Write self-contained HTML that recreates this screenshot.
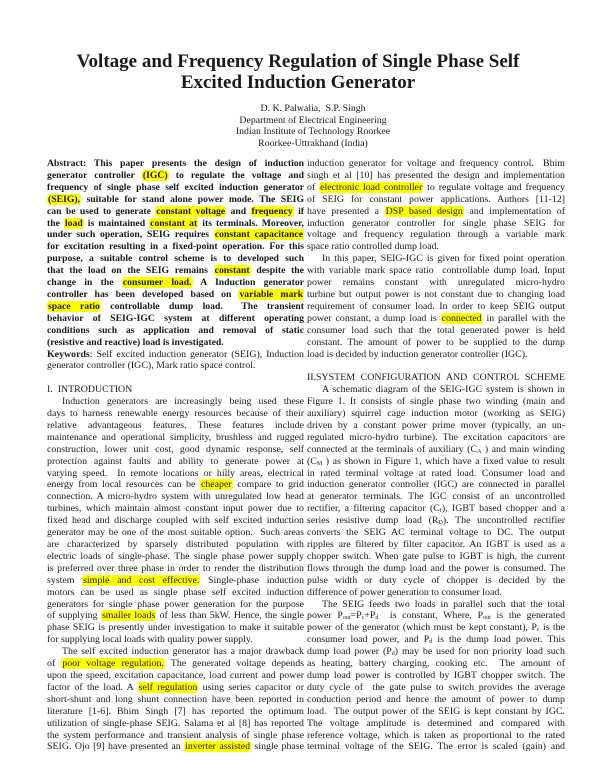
<!DOCTYPE html>
<html><head><meta charset="utf-8">
<style>
html,body{margin:0;padding:0;background:#fff;}
body{width:600px;height:776px;position:relative;overflow:hidden;font-family:"Liberation Serif",serif;color:#1a1a1a;}
.t{position:absolute;left:0;width:596px;text-align:center;font-weight:bold;font-size:19px;line-height:22px;}
.au{position:absolute;left:213px;width:200px;text-align:center;font-size:9.8px;line-height:11px;}
.col{position:absolute;top:158px;font-size:9.9px;}
.col div{height:11.92px;line-height:11.92px;white-space:nowrap;overflow:visible;text-align:justify;text-align-last:justify;}
.col div.l{text-align-last:left;}
.col .b{font-weight:bold;font-size:9.7px;}
.in{text-indent:15px;}
.h{background:#ffff00;border-radius:3px;padding:0 1px;}
sub{font-size:6px;vertical-align:-1px;line-height:0;}
</style></head><body>
<div class="t" style="top:51px">Voltage and Frequency Regulation of Single Phase Self</div>
<div class="t" style="top:72px">Excited Induction Generator</div>
<div class="au" style="top:103px">D. K. Palwalia,&nbsp; S.P. Singh</div>
<div class="au" style="top:114.5px">Department of Electrical Engineering</div>
<div class="au" style="top:126px">Indian Institute of Technology Roorkee</div>
<div class="au" style="top:137.5px">Roorkee-Uttrakhand (India)</div>

<div class="col" style="left:47px;width:257px">
<div class="b">Abstract: This paper presents the design of induction</div>
<div class="b">generator controller <span class="h">(IGC)</span> to regulate the voltage and</div>
<div class="b">frequency of single phase self excited induction generator</div>
<div class="b"><span class="h">(SEIG),</span> suitable for stand alone power mode. The SEIG</div>
<div class="b">can be used to generate <span class="h">constant voltage</span> and <span class="h">frequency</span> if</div>
<div class="b">the <span class="h">load</span> is maintained <span class="h">constant at</span> its terminals. Moreover,</div>
<div class="b">under such operation, SEIG requires <span class="h">constant capacitance</span></div>
<div class="b">for excitation resulting in a fixed-point operation. For this</div>
<div class="b">purpose, a suitable control scheme is to developed such</div>
<div class="b">that the load on the SEIG remains <span class="h">constant</span> despite the</div>
<div class="b">change in the <span class="h">consumer load.</span> A Induction generator</div>
<div class="b">controller has been developed based on <span class="h">variable mark</span></div>
<div class="b"><span class="h">space ratio</span> controllable dump load.&nbsp; The transient</div>
<div class="b">behavior of SEIG-IGC system at different operating</div>
<div class="b">conditions such as application and removal of static</div>
<div class="b l">(resistive and reactive) load is investigated.</div>
<div><b>Keywords</b>: Self excited induction generator (SEIG), Induction</div>
<div class="l">generator controller (IGC), Mark ratio space control.</div>
<div class="l"></div>
<div class="l">I.&nbsp; INTRODUCTION</div>
<div class="in">Induction generators are increasingly being used these</div>
<div>days to harness renewable energy resources because of their</div>
<div>relative advantageous features. These features include</div>
<div>maintenance and operational simplicity, brushless and rugged</div>
<div>construction, lower unit cost, good dynamic response, self</div>
<div>protection against faults and ability to generate power at</div>
<div>varying speed.&nbsp; In remote locations or hilly areas, electrical</div>
<div>energy from local resources can be <span class="h">cheaper</span> compare to grid</div>
<div>connection. A micro-hydro system with unregulated low head</div>
<div>turbines, which maintain almost constant input power due to</div>
<div>fixed head and discharge coupled with self excited induction</div>
<div>generator may be one of the most suitable option.&nbsp; Such areas</div>
<div>are characterized by sparsely distributed population with</div>
<div>electric loads of single-phase. The single phase power supply</div>
<div>is preferred over three phase in order to render the distribution</div>
<div>system <span class="h">simple and cost effective.</span> Single-phase induction</div>
<div>motors can be used as single phase self excited induction</div>
<div>generators for single phase power generation for the purpose</div>
<div>of supplying <span class="h">smaller loads</span> of less than 5kW. Hence, the single</div>
<div>phase SEIG is presently under investigation to make it suitable</div>
<div class="l">for supplying local loads with quality power supply.</div>
<div class="in">The self excited induction generator has a major drawback</div>
<div>of <span class="h">poor voltage regulation.</span> The generated voltage depends</div>
<div>upon the speed, excitation capacitance, load current and power</div>
<div>factor of the load. A <span class="h">self regulation</span> using series capacitor or</div>
<div>short-shunt and long shunt connection have been reported in</div>
<div>literature [1-6]. Bhim Singh [7] has reported the optimum</div>
<div>utilization of single-phase SEIG. Salama et al [8] has reported</div>
<div>the system performance and transient analysis of single phase</div>
<div>SEIG. Ojo [9] have presented an <span class="h">inverter assisted</span> single phase</div>
</div>

<div class="col" style="left:307px;width:258px">
<div>induction generator for voltage and frequency control.&nbsp; Bhim</div>
<div>singh et al [10] has presented the design and implementation</div>
<div>of <span class="h">electronic load controller</span> to regulate voltage and frequency</div>
<div>of SEIG for constant power applications. Authors [11-12]</div>
<div>have presented a <span class="h">DSP based design</span> and implementation of</div>
<div>induction generator controller for single phase SEIG for</div>
<div>voltage and frequency regulation through a variable mark</div>
<div class="l">space ratio controlled dump load.</div>
<div class="in">In this paper, SEIG-IGC is given for fixed point operation</div>
<div>with variable mark space ratio&nbsp; controllable dump load. Input</div>
<div>power remains constant with unregulated micro-hydro</div>
<div>turbine but output power is not constant due to changing load</div>
<div>requirement of consumer load. In order to keep SEIG output</div>
<div>power constant, a dump load is <span class="h">connected</span> in parallel with the</div>
<div>consumer load such that the total generated power is held</div>
<div>constant. The amount of power to be supplied to the dump</div>
<div class="l">load is decided by induction generator controller (IGC).</div>
<div class="l"></div>
<div>II.SYSTEM CONFIGURATION AND CONTROL SCHEME</div>
<div class="in">A schematic diagram of the SEIG-IGC system is shown in</div>
<div>Figure 1. It consists of single phase two winding (main and</div>
<div>auxiliary) squirrel cage induction motor (working as SEIG)</div>
<div>driven by a constant power prime mover (typically, an un-</div>
<div>regulated micro-hydro turbine). The excitation capacitors are</div>
<div>connected at the terminals of auxiliary (C<sub>A</sub> ) and main winding</div>
<div>(C<sub>M</sub> ) as shown in Figure 1, which have a fixed value to result</div>
<div>in rated terminal voltage at rated load. Consumer load and</div>
<div>induction generator controller (IGC) are connected in parallel</div>
<div>at generator terminals. The IGC consist of an uncontrolled</div>
<div>rectifier, a filtering capacitor (C<sub>f</sub>), IGBT based chopper and a</div>
<div>series resistive dump load (R<sub>D</sub>). The uncontrolled rectifier</div>
<div>converts the SEIG AC terminal voltage to DC. The output</div>
<div>ripples are filtered by filter capacitor. An IGBT is used as a</div>
<div>chopper switch. When gate pulse to IGBT is high, the current</div>
<div>flows through the dump load and the power is consumed. The</div>
<div>pulse width or duty cycle of chopper is decided by the</div>
<div class="l">difference of power generation to consumer load.</div>
<div class="in">The SEIG feeds two loads in parallel such that the total</div>
<div>power P<sub>out</sub>=P<sub>c</sub>+P<sub>d</sub>&nbsp; is constant, Where, P<sub>out</sub> is the generated</div>
<div>power of the generator (which must be kept constant), P<sub>c</sub> is the</div>
<div>consumer load power, and P<sub>d</sub> is the dump load power. This</div>
<div>dump load power (P<sub>d</sub>) may be used for non priority load such</div>
<div>as heating, battery charging, cooking etc.&nbsp; The amount of</div>
<div>dump load power is controlled by IGBT chopper switch. The</div>
<div>duty cycle of&nbsp; the gate pulse to switch provides the average</div>
<div>conduction period and hence the amount of power to dump</div>
<div>load.&nbsp; The output power of the SEIG is kept constant by IGC.</div>
<div>The voltage amplitude is determined and compared with</div>
<div>reference voltage, which is taken as proportional to the rated</div>
<div>terminal voltage of the SEIG. The error is scaled (gain) and</div>
</div>
</body></html>
